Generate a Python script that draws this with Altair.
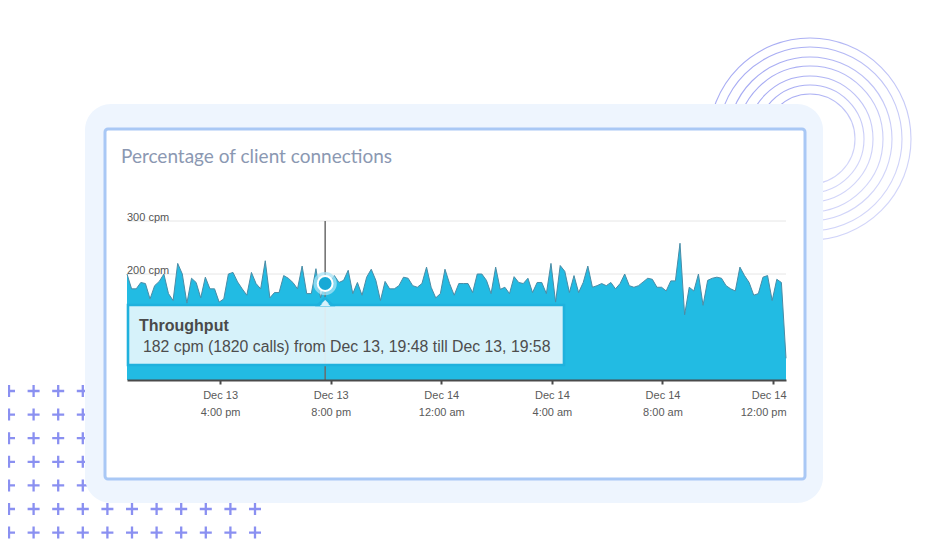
import altair as alt
import pandas as pd

# ---------------- data ----------------
START = "2023-12-13 12:38"          # first 10-minute bucket
cpm = [
    200, 172, 172, 184, 182, 153, 178, 186, 200, 163, 150, 220,
    200, 145, 192, 184, 155, 194, 172, 172, 147, 153, 200, 203,
    185, 172, 160, 203, 182, 172, 225, 155, 165, 165, 197, 192,
    184, 172, 215, 163, 163, 210, 155, 182, 184, 197, 184, 188,
    207, 163, 184, 160, 194, 209, 188, 150, 186, 172, 172, 178,
    194, 192, 178, 175, 182, 213, 175, 155, 163, 209, 182, 160,
    182, 182, 182, 165, 200, 200, 188, 163, 213, 171, 175, 163,
    195, 184, 182, 192, 165, 184, 184, 163, 220, 147, 216, 205,
    165, 197, 165, 184, 215, 175, 178, 182, 178, 184, 172, 182,
    200, 178, 175, 178, 185, 192, 190, 175, 175, 168, 187, 187,
    258, 123, 175, 168, 200, 141, 188, 192, 194, 192, 178, 172,
    168, 213, 197, 184, 160, 163, 194, 197, 150, 190, 184, 41,
]
tick_times = ["2023-12-13 16:00", "2023-12-13 20:00", "2023-12-14 00:00",
              "2023-12-14 04:00", "2023-12-14 08:00", "2023-12-14 12:00"]
grid_values = [200, 300]
grid_labels = ["200 cpm", "300 cpm"]
hover_index = 43
title_text = "Percentage of client connections"
tooltip_title = "Throughput"
ring_radii = [101, 92, 82, 73, 63, 54, 45]

# ---------------- derived tables ----------------
times = pd.date_range(START, periods=len(cpm), freq="10min")
fmt = "%Y-%m-%dT%H:%M:%S"
series = pd.DataFrame({"t": times.strftime(fmt), "cpm": cpm})

t0 = times[hover_index]
t1 = t0 + pd.Timedelta(minutes=10)
v0 = cpm[hover_index]
tooltip_line = (f"{v0} cpm ({v0 * 10} calls) from {t0.strftime('%b %-d, %H:%M')} "
                f"till {t1.strftime('%b %-d, %H:%M')}")
hover = pd.DataFrame({"t": [t0.strftime(fmt)], "cpm": [v0]})
grid = pd.DataFrame({"v": grid_values, "label": grid_labels})


def dt(ts):
    ts = pd.Timestamp(ts)
    return alt.DateTime(year=ts.year, month=ts.month, date=ts.day,
                        hours=ts.hour, minutes=ts.minute)


# ---------------- layout (page pixels) ----------------
OX, OY = 127, 221           # plot-area origin on the page
W, H = 659, 159             # plot-area size


def rx(p):
    return p - OX


def ry(p):
    return p - OY


one = pd.DataFrame({"k": [0]})

xs = alt.Scale(domain=[dt(times[0]), dt(times[-1])], nice=False)
ys = alt.Scale(domain=[0, 300], nice=False, zero=True)

# decorative rings
rings = pd.DataFrame({"s": [4 * r * r for r in ring_radii]})
ring_layer = alt.Chart(rings).mark_point(
    shape="circle", filled=False, strokeWidth=1.1,
    stroke=alt.Gradient(gradient="linear",
                        stops=[alt.GradientStop(offset=0, color="#767ded"),
                               alt.GradientStop(offset=1, color="#cdd1f9")],
                        x1=0, y1=0, x2=1, y2=1),
).encode(x=alt.value(rx(810)), y=alt.value(ry(139)),
         size=alt.Size("s:Q", scale=None, legend=None))

# decorative plus grid
plus_rows = []
for j in range(7):
    for i in range(11):
        plus_rows.append({"px": rx(9 + 24.6 * i), "py": ry(391 + 23.6 * j)})
plus = pd.DataFrame(plus_rows)
plus_layer = alt.Chart(plus).mark_point(
    shape="M-1,0L1,0M0,-1L0,1", filled=False, strokeWidth=2.3,
    color="#8a90f1", opacity=1, size=144,
).encode(x=alt.X("px:Q", scale=None, axis=None),
         y=alt.Y("py:Q", scale=None, axis=None))

card = alt.Chart(one).mark_rect(fill="#eef5fe", cornerRadius=26).encode(
    x=alt.value(rx(85)), x2=alt.value(rx(823)),
    y=alt.value(ry(104)), y2=alt.value(ry(503)))

panel = alt.Chart(one).mark_rect(fill="white", stroke="#a9c8f5", strokeWidth=3,
                                 cornerRadius=3).encode(
    x=alt.value(rx(105)), x2=alt.value(rx(805)),
    y=alt.value(ry(129)), y2=alt.value(ry(479)))

title = alt.Chart(one).mark_text(
    text=title_text, font="Lato", fontSize=19, color="#8b98b2",
    align="left", baseline="alphabetic",
).encode(x=alt.value(rx(121)), y=alt.value(ry(163)))

grid_rules = alt.Chart(grid).mark_rule(color="#e6e6e6", strokeWidth=1).encode(
    y=alt.Y("v:Q", scale=ys, axis=None))

grid_text = alt.Chart(grid).mark_text(
    font="Liberation Sans", fontSize=11, color="#555555",
    align="left", baseline="alphabetic",
).encode(x=alt.value(0), y=alt.Y("v:Q", scale=ys, axis=None), text="label:N")

x_axis = alt.Axis(
    values=[dt(t) for t in tick_times], title=None, grid=False,
    labelExpr="[timeFormat(datum.value, '%b %-d'), "
              "timeFormat(datum.value, '%-I:%M ') + lower(timeFormat(datum.value, '%p'))]",
    labelFont="Liberation Sans", labelFontSize=11, labelColor="#5a5a5a",
    labelLineHeight=17, labelPadding=5, labelOverlap=False, labelBound=False,
    labelFlush=15, labelFlushOffset=13,
    domainColor="#4a4a4a", domainWidth=2, tickColor="#4a4a4a", tickWidth=2,
    tickSize=4, zindex=1,
)

area = alt.Chart(series).mark_area(color="#22bbe3", opacity=1).encode(
    x=alt.X("t:T", scale=xs, axis=x_axis),
    y=alt.Y("cpm:Q", scale=ys, axis=None))

edge = alt.Chart(series).mark_line(color="#4a8ca6", strokeWidth=1).encode(
    x=alt.X("t:T", scale=xs), y=alt.Y("cpm:Q", scale=ys))

hover_rule = alt.Chart(hover).mark_rule(color="#6b6b6b", strokeWidth=1.5).encode(
    x=alt.X("t:T", scale=xs), y=alt.value(0), y2=alt.value(H))

tip_box = alt.Chart(one).mark_rect(fill="#e6f6fc", fillOpacity=0.92,
                                   stroke="#1fb1dd", strokeWidth=2.6).encode(
    x=alt.value(rx(128)), x2=alt.value(rx(564)),
    y=alt.value(ry(305)), y2=alt.value(ry(365)))

tip_arrow = alt.Chart(hover).mark_point(
    shape="M-1,0.5L0,-0.5L1,0.5Z", filled=True, fill="#d7f1fa", fillOpacity=1,
    stroke="#1fb1dd", strokeWidth=2.6, size=196, opacity=1,
).encode(x=alt.X("t:T", scale=xs), y=alt.value(ry(305) - 3.5))

tip_arrow_cover = alt.Chart(hover).mark_point(
    shape="M-1,0.5L0,-0.5L1,0.5Z", filled=True, fill="#d7f1fa", fillOpacity=1,
    strokeWidth=0, size=110, opacity=1,
).encode(x=alt.X("t:T", scale=xs), y=alt.value(ry(305) - 1.5))

tip_title = alt.Chart(one).mark_text(
    text=tooltip_title, font="Liberation Sans", fontSize=16, fontWeight="bold",
    color="#4a4a4a", align="left", baseline="middle",
).encode(x=alt.value(rx(139)), y=alt.value(ry(326)))

tip_text = alt.Chart(one).mark_text(
    text=tooltip_line, font="Liberation Sans", fontSize=15.8,
    color="#4d4d4d", align="left", baseline="middle",
).encode(x=alt.value(rx(143)), y=alt.value(ry(347)))

halo = alt.Chart(hover).mark_point(
    shape="circle", filled=True, fill="#a9e3f5", opacity=0.75, size=540, strokeWidth=0,
).encode(x=alt.X("t:T", scale=xs), y=alt.Y("cpm:Q", scale=ys))

dot = alt.Chart(hover).mark_point(
    shape="circle", filled=True, fill="#17a9d6", stroke="white", strokeWidth=2,
    opacity=1, size=220,
).encode(x=alt.X("t:T", scale=xs), y=alt.Y("cpm:Q", scale=ys))

chart = alt.layer(
    ring_layer, plus_layer, card, panel, title, grid_rules, grid_text,
    area, edge, hover_rule, tip_box, tip_arrow, tip_arrow_cover,
    tip_title, tip_text, halo, dot,
).properties(
    width=W, height=H,
    autosize=alt.AutoSizeParams(type="none"),
    padding={"left": OX - 8, "top": OY - 8,
             "right": 950 - 8 - (OX + W) - 2, "bottom": 541 - (OY + H)},
    background="white",
).configure_view(strokeWidth=0)

chart.save("out.html", embed_options={"renderer": "svg", "actions": False})
